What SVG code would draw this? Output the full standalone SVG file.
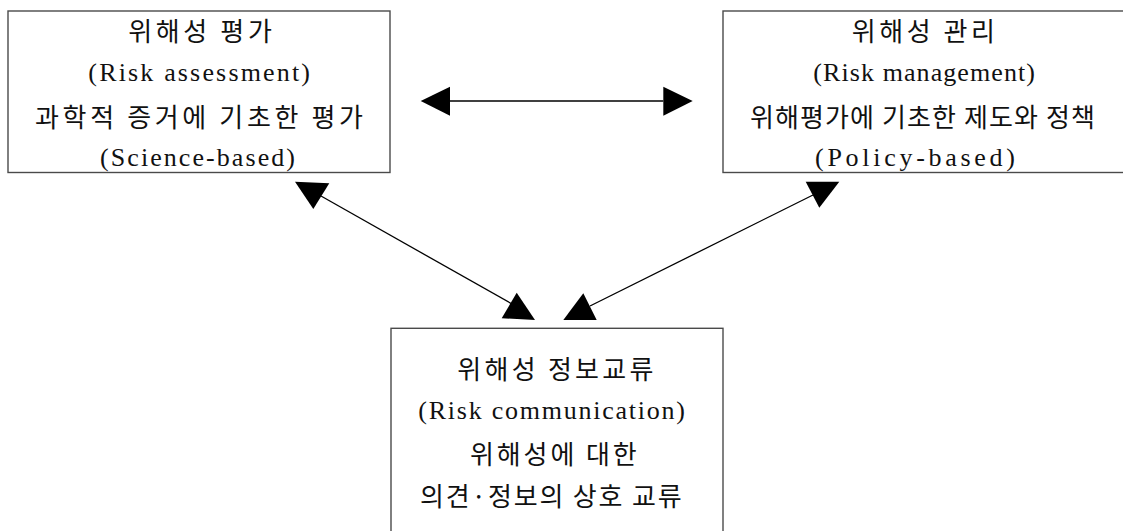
<svg xmlns="http://www.w3.org/2000/svg" width="1123" height="531" viewBox="0 0 1123 531">
<style>
  .box { fill: #ffffff; stroke: #4a4a4a; stroke-width: 1.4; }
  .ko { font-family: "Noto Sans CJK KR", "Noto Sans", sans-serif; font-size: 26px; fill: #111; dominant-baseline: central; }
  .en { font-family: "Liberation Serif", "Noto Sans CJK KR", serif; font-size: 26px; fill: #111; dominant-baseline: central; }
  .conn { stroke: #000; stroke-width: 1.3; fill: none; }
  .head { fill: #000; stroke: none; }
</style>
<rect width="1123" height="531" fill="#ffffff"/>
<g id="node-assessment">
  <rect class="box" x="8" y="11" width="382" height="161.5"/>
  <text class="ko" x="128.3" y="29.5" textLength="143.5" lengthAdjust="spacing">위해성 평가</text>
  <text class="en" x="88.3" y="72" textLength="221.7" lengthAdjust="spacing">(Risk assessment)</text>
  <text class="ko" x="35" y="115" textLength="328" lengthAdjust="spacing">과학적 증거에 기초한 평가</text>
  <text class="en" x="100" y="157.5" textLength="195" lengthAdjust="spacing">(Science-based)</text>
</g>
<g id="node-management">
  <rect class="box" x="723" y="11" width="402" height="161.5"/>
  <text class="ko" x="851.7" y="29.5" textLength="143.3" lengthAdjust="spacing">위해성 관리</text>
  <text class="en" x="813.3" y="72" textLength="221.7" lengthAdjust="spacing">(Risk management)</text>
  <text class="ko" x="750" y="115" textLength="345" lengthAdjust="spacing">위해평가에 기초한 제도와 정책</text>
  <text class="en" x="815" y="157.5" textLength="200" lengthAdjust="spacing">(Policy-based)</text>
</g>
<g id="node-communication">
  <rect class="box" x="391" y="328.3" width="332" height="210"/>
  <text class="ko" x="457.3" y="367" textLength="196" lengthAdjust="spacing">위해성 정보교류</text>
  <text class="en" x="418.3" y="410" textLength="266.7" lengthAdjust="spacing">(Risk communication)</text>
  <text class="ko" x="470" y="452" textLength="166.7" lengthAdjust="spacing">위해성에 대한</text>
  <text class="ko" x="420" y="494.5" textLength="261.7" lengthAdjust="spacing">의견·정보의 상호 교류</text>
</g>
<g id="connectors">
  <line class="conn" x1="450" y1="101" x2="663.3" y2="101"/>
  <polygon class="head" points="420.7,101 450,86.7 450,115.7"/>
  <polygon class="head" points="692.7,101 663.3,86.7 663.3,115.7"/>
  <line class="conn" x1="321" y1="196" x2="512" y2="304"/>
  <polygon class="head" points="295,181.7 329.3,183.3 313.3,209"/>
  <polygon class="head" points="516.7,292.7 501.7,318.3 535,320"/>
  <line class="conn" x1="813" y1="195" x2="590" y2="306"/>
  <polygon class="head" points="805.7,181.7 839.3,181.7 819.3,207.7"/>
  <polygon class="head" points="583.3,293.3 563.3,320 596.7,320"/>
</g>
</svg>
